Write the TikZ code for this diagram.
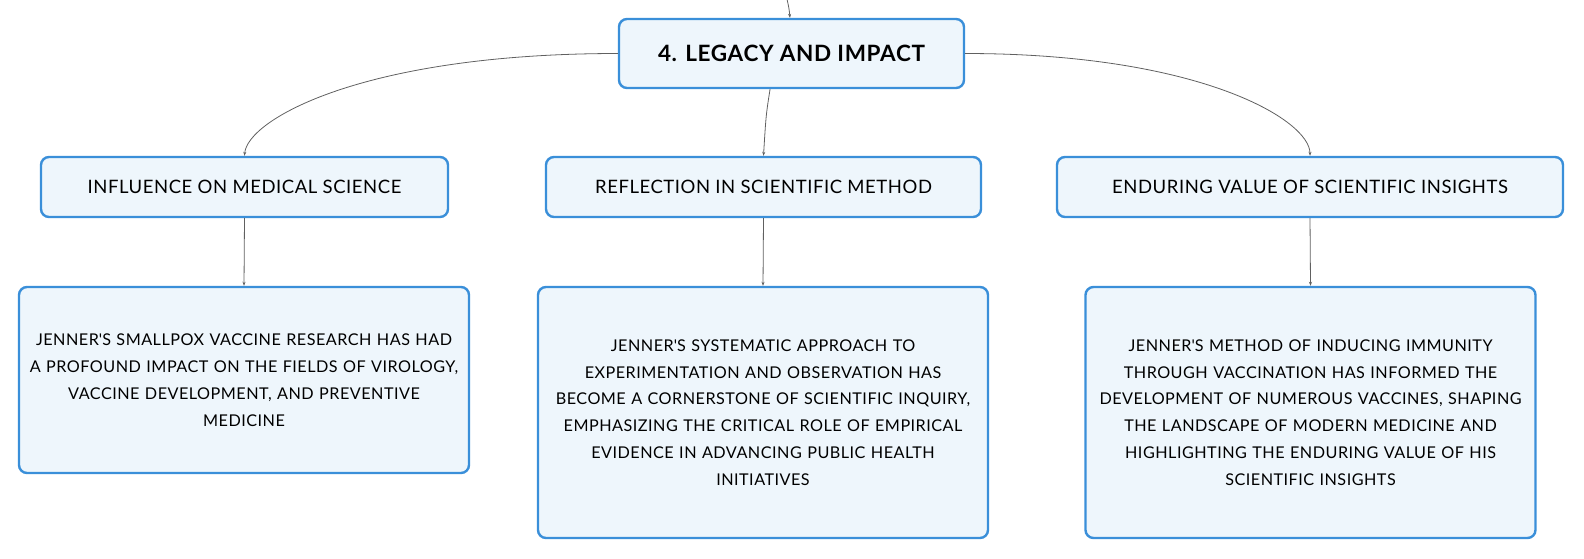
\documentclass[tikz,border=0pt]{standalone}
\usepackage{fontspec}
\setmainfont{Lato}[LetterSpace=3]
\usetikzlibrary{arrows.meta}

\definecolor{boxblue}{HTML}{3A8FD9}
\definecolor{boxfill}{HTML}{EEF6FC}
\definecolor{linkgray}{HTML}{606060}

\tikzset{%
  topic box/.style={
    draw=boxblue, fill=boxfill, line width=2.4pt, rounded corners=8pt,
    align=center, inner sep=0pt
  },
  main topic/.style={topic box, minimum width=345pt, minimum height=69pt,
    font=\fontsize{22.5}{26}\selectfont\bfseries},
  sub topic/.style={topic box, minimum height=60pt,
    font=\fontsize{18.5}{22}\selectfont},
  detail/.style={topic box, text width=440pt, inner xsep=5pt,
    font=\fontsize{16.2}{26.8}\selectfont},
  link/.style={draw=linkgray, line width=0.8pt, -{Stealth[length=4pt,width=3pt]}},
}

\begin{document}
\begin{tikzpicture}[x=1pt, y=-1pt]
\useasboundingbox (0,0) rectangle (1584,558);
%=========================================================================================================
% Main topic
%=========================================================================================================
\node [main topic] (legacy) at (791.5,53.5) {4. LEGACY AND IMPACT};
\coordinate (parent) at (786.5,-3);
\draw [link] (parent) .. controls (789,8) .. (legacy.north -| 790,0);

%=========================================================================================================
% Sub topics
%=========================================================================================================
\node [sub topic, minimum width=407pt] (influence) at (244.5,187) {INFLUENCE ON MEDICAL SCIENCE};
\node [sub topic, minimum width=435pt] (reflection) at (763.5,187) {REFLECTION IN SCIENTIFIC METHOD};
\node [sub topic, minimum width=506pt] (enduring) at (1310,187) {ENDURING VALUE OF SCIENTIFIC INSIGHTS};

%=========================================================================================================
% Details
%=========================================================================================================
\node [detail, minimum height=186pt] (influence-text) at (244,380)
  {JENNER\textquotesingle S SMALLPOX VACCINE RESEARCH HAS HAD\\A PROFOUND IMPACT ON THE FIELDS OF VIROLOGY,\\VACCINE DEVELOPMENT, AND PREVENTIVE\\MEDICINE};
\node [detail, minimum height=251pt] (reflection-text) at (763,412.5)
  {JENNER\textquotesingle S SYSTEMATIC APPROACH TO\\EXPERIMENTATION AND OBSERVATION HAS\\BECOME A CORNERSTONE OF SCIENTIFIC INQUIRY,\\EMPHASIZING THE CRITICAL ROLE OF EMPIRICAL\\EVIDENCE IN ADVANCING PUBLIC HEALTH\\INITIATIVES};
\node [detail, minimum height=251pt] (enduring-text) at (1310.5,412.5)
  {JENNER\textquotesingle S METHOD OF INDUCING IMMUNITY\\THROUGH VACCINATION HAS INFORMED THE\\DEVELOPMENT OF NUMEROUS VACCINES, SHAPING\\THE LANDSCAPE OF MODERN MEDICINE AND\\HIGHLIGHTING THE ENDURING VALUE OF HIS\\SCIENTIFIC INSIGHTS};

%=========================================================================================================
% Draw connections
%=========================================================================================================
\draw [link] (legacy.west) .. controls (362,53.5) and (247,120) .. (influence.north);
\draw [link] (legacy.239) .. controls (766,115) .. (reflection.north);
\draw [link] (legacy.east) .. controls (1200,53.5) and (1310,120) .. (enduring.north);

\foreach \t in {influence, reflection, enduring}
  \draw [link] (\t.south) -- (\t-text.north);

\end{tikzpicture}
\end{document}
